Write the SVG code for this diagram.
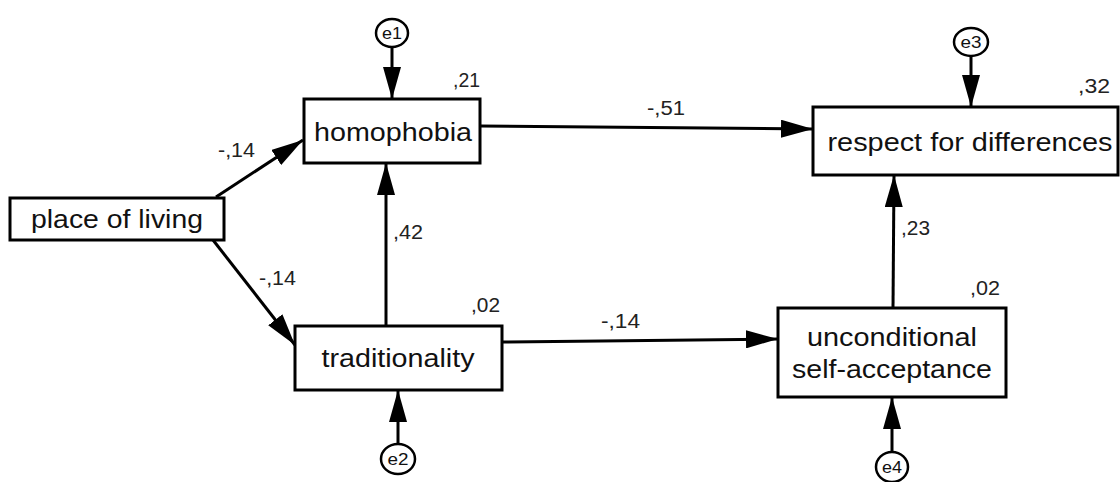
<svg xmlns="http://www.w3.org/2000/svg" width="1120" height="482" viewBox="0 0 1120 482">
<style>
.box{fill:#fff;stroke:#000;stroke-width:3}
.err{fill:#fff;stroke:#000;stroke-width:2.5}
.lbl{font-family:"Liberation Sans",Arial,sans-serif;font-size:26px;fill:#111;text-anchor:middle}
.num{font-family:"Liberation Sans",Arial,sans-serif;font-size:19.5px;fill:#222}
.et{font-family:"Liberation Sans",Arial,sans-serif;font-size:17px;fill:#111;text-anchor:middle}
.c{fill:none;stroke:#000;stroke-width:3}
</style>
<defs>
<marker id="ah" markerUnits="userSpaceOnUse" markerWidth="32" markerHeight="18" refX="32" refY="9" orient="auto">
<path d="M0,0 L32,9 L0,18 z" fill="#000"/>
</marker>
</defs>
<g id="connectors">
<line class="c" x1="216" y1="197" x2="303" y2="140" marker-end="url(#ah)"/>
<line class="c" x1="213" y1="240" x2="295" y2="345" marker-end="url(#ah)"/>
<line class="c" x1="392" y1="47" x2="392" y2="99" marker-end="url(#ah)"/>
<line class="c" x1="398" y1="444" x2="398" y2="390" marker-end="url(#ah)"/>
<line class="c" x1="386" y1="326" x2="386" y2="163" marker-end="url(#ah)"/>
<line class="c" x1="480" y1="126" x2="813" y2="129" marker-end="url(#ah)"/>
<line class="c" x1="502" y1="342" x2="778" y2="339" marker-end="url(#ah)"/>
<line class="c" x1="893" y1="308" x2="894" y2="175" marker-end="url(#ah)"/>
<line class="c" x1="971" y1="56" x2="971" y2="107" marker-end="url(#ah)"/>
<line class="c" x1="892" y1="452" x2="892" y2="397" marker-end="url(#ah)"/>
<text class="num" x="218" y="157" textLength="37" lengthAdjust="spacingAndGlyphs">-,14</text>
<text class="num" x="259" y="285" textLength="37" lengthAdjust="spacingAndGlyphs">-,14</text>
<text class="num" x="393" y="239" textLength="30" lengthAdjust="spacingAndGlyphs">,42</text>
<text class="num" x="647" y="115" textLength="38" lengthAdjust="spacingAndGlyphs">-,51</text>
<text class="num" x="601" y="328" textLength="39" lengthAdjust="spacingAndGlyphs">-,14</text>
<text class="num" x="901" y="235" textLength="29" lengthAdjust="spacingAndGlyphs">,23</text>
</g>
<g id="place">
<rect class="box" x="10" y="198" width="214" height="42"/>
<text class="lbl" x="117" y="228" textLength="172" lengthAdjust="spacingAndGlyphs">place of living</text>
</g>
<g id="homophobia">
<rect class="box" x="304" y="99" width="176" height="64"/>
<text class="lbl" x="393" y="141" textLength="158" lengthAdjust="spacingAndGlyphs">homophobia</text>
<text class="num" x="453" y="87" textLength="27" lengthAdjust="spacingAndGlyphs">,21</text>
</g>
<g id="traditionality">
<rect class="box" x="295" y="326" width="207" height="64"/>
<text class="lbl" x="398" y="367" textLength="153" lengthAdjust="spacingAndGlyphs">traditionality</text>
<text class="num" x="471" y="312" textLength="29" lengthAdjust="spacingAndGlyphs">,02</text>
</g>
<g id="respect">
<rect class="box" x="813" y="107" width="305" height="68"/>
<text class="lbl" x="970" y="151" textLength="285" lengthAdjust="spacingAndGlyphs">respect for differences</text>
<text class="num" x="1078" y="93" textLength="32" lengthAdjust="spacingAndGlyphs">,32</text>
</g>
<g id="unconditional">
<rect class="box" x="778" y="308" width="228" height="89"/>
<text class="lbl" x="892" y="346" textLength="170" lengthAdjust="spacingAndGlyphs">unconditional</text>
<text class="lbl" x="892" y="378" textLength="200" lengthAdjust="spacingAndGlyphs">self-acceptance</text>
<text class="num" x="970" y="295" textLength="30" lengthAdjust="spacingAndGlyphs">,02</text>
</g>
<g id="e1">
<ellipse class="err" cx="392" cy="33" rx="16" ry="14"/>
<text class="et" x="392" y="39" textLength="20" lengthAdjust="spacingAndGlyphs">e1</text>
</g>
<g id="e2">
<ellipse class="err" cx="398" cy="459" rx="17" ry="15"/>
<text class="et" x="398" y="465" textLength="21" lengthAdjust="spacingAndGlyphs">e2</text>
</g>
<g id="e3">
<ellipse class="err" cx="971" cy="42" rx="17" ry="14"/>
<text class="et" x="971" y="48" textLength="21" lengthAdjust="spacingAndGlyphs">e3</text>
</g>
<g id="e4">
<ellipse class="err" cx="892" cy="467" rx="16" ry="15"/>
<text class="et" x="892" y="473" textLength="20" lengthAdjust="spacingAndGlyphs">e4</text>
</g>
</svg>
